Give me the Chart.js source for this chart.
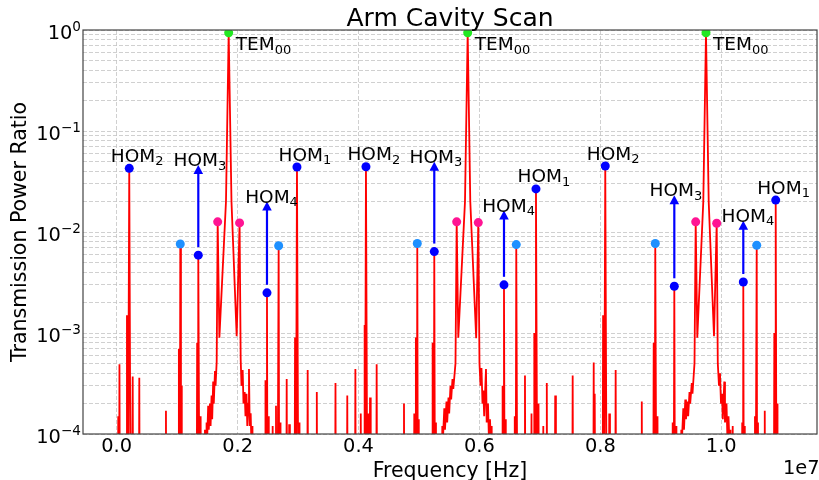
<!DOCTYPE html>
<html>
<head>
<meta charset="utf-8">
<title>Arm Cavity Scan</title>
<script src="https://cdn.jsdelivr.net/npm/chart.js@4.4.1/dist/chart.umd.min.js"></script>
<style>
  html, body { margin: 0; padding: 0; background: #fff; }
  #wrap { position: relative; width: 819px; height: 480px; }
</style>
</head>
<body>
<div id="wrap"><canvas id="scan"></canvas></div>
<script>
// all frequencies in MHz; the axis shows them in units of 1e7 Hz
const xTickMHz = [0, 2, 4, 6, 8, 10];
const xTickLabels = ["0.0", "0.2", "0.4", "0.6", "0.8", "1.0"];
const yDecades = [1e-4, 1e-3, 1e-2, 1e-1, 1];
const yDecadeExp = ["\u22124", "\u22123", "\u22122", "\u22121", "0"];
const yMinorSteps = [2, 3, 4, 5, 6, 7, 8, 9];

// TEM00 carrier resonances (green)
const temMHz = [1.8525, 5.8055, 9.747];
const temPow = [0.94, 0.94, 0.94];

// higher order modes (blue) and their order number
const homMHz = [0.208, 1.350, 2.486, 2.982, 4.123, 5.253, 6.406, 6.935, 8.081, 9.223, 10.364, 10.900];
const homPow = [0.0427, 0.0059, 0.0025, 0.044, 0.0443, 0.0064, 0.0030, 0.0267, 0.045, 0.0029, 0.0032, 0.0207];
const homOrder = [2, 3, 4, 1, 2, 3, 4, 1, 2, 3, 4, 1];
// arrow tips for the HOM3 / HOM4 peaks, in the same order as they appear above
const arrowTop = [0.046, 0.020, 0.0497, 0.0163, 0.0231, 0.0129];

// light blue side peaks
const sideMHz = [1.052, 2.679, 4.972, 6.609, 8.908, 10.586];
const sidePow = [0.0076, 0.0073, 0.0077, 0.0075, 0.0077, 0.0074];

// pink peaks next to each carrier
const pinkMHz = [1.6705, 2.0328, 5.6236, 5.9809, 9.5767, 9.924];
const pinkPow = [0.0126, 0.0123, 0.0126, 0.0124, 0.0126, 0.0122];

// small spikes of the red trace
const spikeMHz = [0.026, 0.046, 0.170, 0.265, 0.374, 0.815, 1.030, 1.075, 1.331, 1.389, 1.460,
  2.461, 2.511, 2.580, 2.635, 2.704, 2.812, 2.853, 2.950, 3.024, 3.159, 3.310,
  3.619, 3.814, 3.948, 4.037, 4.095, 4.165, 4.190, 4.300, 4.752, 4.922, 4.950, 4.997, 5.228, 5.281,
  6.389, 6.434, 6.584, 6.753, 6.861, 6.907, 6.977, 7.056, 7.114, 7.253, 7.542,
  7.890, 7.911, 8.045, 8.147, 8.253, 8.685, 8.882, 8.945, 9.196, 9.251,
  10.189, 10.346, 10.389, 10.557, 10.607, 10.719, 10.877, 10.930];
const spikePow = [1.5e-4, 4.9e-4, 1.5e-3, 3.7e-4, 3.6e-4, 1.7e-4, 7e-4, 3e-4, 8e-4, 1.5e-4, 1.1e-4,
  3.4e-4, 1.5e-4, 1.2e-4, 1.9e-4, 1.3e-4, 3.5e-4, 1.25e-4, 9e-4, 1.3e-4, 4.3e-4, 2.6e-4,
  3.2e-4, 2.4e-4, 4.4e-4, 1.6e-4, 1.2e-3, 1.6e-4, 2.3e-4, 4.9e-4, 2e-4, 1.6e-4, 9e-4, 1.4e-4, 8e-4, 1.3e-4,
  3e-4, 1.4e-4, 1.5e-4, 3.8e-4, 1.6e-4, 1e-3, 2e-4, 1.2e-4, 3.2e-4, 2.4e-4, 3.8e-4,
  5.1e-4, 2.5e-4, 1.5e-3, 1.6e-4, 4.3e-4, 2.1e-4, 8e-4, 1.5e-4, 1.3e-4, 1.2e-4,
  1.2e-4, 1.3e-4, 1.2e-4, 1.5e-4, 1.3e-4, 1.7e-4, 1e-3, 2e-4];

// wings of the three carrier resonances, traced point by point (carrier and pink tops merged in below)
const wingMHz = [
  1.4737, 1.4869, 1.4969, 1.5134, 1.5233, 1.5432, 1.5531, 1.5696, 1.5796, 1.5961, 1.6060, 1.6259, 1.6358, 1.6540,
  1.6987, 1.8078, 1.8988, 1.9848,
  2.0510, 2.0642, 2.0840, 2.0973, 2.1171, 2.1304, 2.1469, 2.1601, 2.1767, 2.1882, 2.1998, 2.2164, 2.2263, 2.2461, 2.2577,
  5.3722, 5.3854, 5.3970, 5.4185, 5.4301, 5.4549, 5.4665, 5.4880, 5.4996, 5.5211, 5.5326, 5.5541, 5.5674, 5.6038,
  5.6501, 5.7609, 5.8485, 5.9461,
  6.0007, 6.0173, 6.0338, 6.0503, 6.0636, 6.0785, 6.1082, 6.1198, 6.1413, 6.1545, 6.1744, 6.1876, 6.2025, 6.2157,
  9.3253, 9.3385, 9.3501, 9.3716, 9.3832, 9.4047, 9.4162, 9.4410, 9.4526, 9.4741, 9.4857, 9.5121, 9.5237, 9.5568,
  9.6031, 9.7024, 9.7917, 9.8793,
  9.9422, 9.9620, 9.9786, 9.9951, 10.0116, 10.0249, 10.0497, 10.0613, 10.0861, 10.0993, 10.1192, 10.1324, 10.1522, 10.1638];
const wingPow = [
  1e-6, 1.3e-4, 9e-5, 1.9e-4, 1.1e-4, 2e-4, 1.2e-4, 2.4e-4, 1.4e-4, 3.3e-4, 2e-4, 4.2e-4, 3e-4, 5.2e-4,
  9e-4, 0.02, 0.02, 9.3e-4,
  5.5e-4, 3e-4, 4.3e-4, 2e-4, 2.6e-4, 1.5e-4, 2.5e-4, 1.2e-4, 2e-4, 4.4e-4, 1.2e-4, 1.6e-4, 9e-5, 1.2e-4, 1e-6,
  1e-6, 1.2e-4, 9e-5, 1.8e-4, 1.1e-4, 2.1e-4, 1.3e-4, 2.3e-4, 1.6e-4, 3e-4, 2.2e-4, 3.5e-4, 2.8e-4, 5e-4,
  9e-4, 0.02, 0.02, 8.9e-4,
  5e-4, 3e-4, 4.5e-4, 2e-4, 2.7e-4, 1.5e-4, 4.4e-4, 1.3e-4, 2e-4, 1e-4, 1.4e-4, 9e-5, 1.2e-4, 1e-6,
  1e-6, 1.1e-4, 9e-5, 1.8e-4, 1.1e-4, 2.2e-4, 1.4e-4, 2.1e-4, 1.5e-4, 2.6e-4, 2e-4, 3.2e-4, 2.5e-4, 5e-4,
  9e-4, 0.02, 0.02, 9.3e-4,
  5e-4, 3e-4, 4e-4, 2e-4, 2.5e-4, 1.4e-4, 3.3e-4, 1.3e-4, 2e-4, 1e-4, 1.5e-4, 9e-5, 1.1e-4, 1e-6];

const FONT = "'DejaVu Sans', sans-serif";
const FLOOR = 1e-6;

function pts(xs, ys) {
  return xs.map((x, i) => ({ x: x, y: ys[i] }));
}

// red transmission trace: narrow spikes down to the floor, plus the traced carrier wings
function buildTrace() {
  const out = [];
  const spike = (f, p, w) => out.push({ x: f - w, y: FLOOR }, { x: f, y: p }, { x: f + w, y: FLOOR });
  spikeMHz.forEach((f, i) => spike(f, spikePow[i], 0.012));
  homMHz.forEach((f, i) => spike(f, homPow[i], 0.03));
  sideMHz.forEach((f, i) => spike(f, sidePow[i], 0.025));
  wingMHz.forEach((f, i) => out.push({ x: f, y: wingPow[i] }));
  temMHz.forEach((f, i) => out.push({ x: f, y: temPow[i] }));
  pinkMHz.forEach((f, i) => out.push({ x: f, y: pinkPow[i] }));
  out.sort((a, b) => a.x - b.x);
  return out;
}

function modeLabel(ctx, name, sub, left, base) {
  ctx.font = "18.5px " + FONT;
  ctx.fillText(name, left, base);
  const w = ctx.measureText(name).width;
  ctx.font = "13px " + FONT;
  ctx.fillText(sub, left + w, base + 3.5);
}

const extras = {
  id: "extras",
  afterDatasetsDraw(chart) {
    const { ctx, chartArea: a } = chart;
    const x = chart.scales.x, y = chart.scales.y;
    ctx.save();

    // arrows from the HOM3 / HOM4 dots
    ctx.strokeStyle = "#0000ff";
    ctx.fillStyle = "#0000ff";
    ctx.lineWidth = 2.2;
    let k = 0;
    homMHz.forEach((f, i) => {
      if (homOrder[i] < 3) return;
      const px = x.getPixelForValue(f);
      const y0 = y.getPixelForValue(homPow[i]) - 8;
      const y1 = y.getPixelForValue(arrowTop[k++]);
      ctx.beginPath();
      ctx.moveTo(px, y0);
      ctx.lineTo(px, y1 + 7);
      ctx.stroke();
      ctx.beginPath();
      ctx.moveTo(px, y1);
      ctx.lineTo(px - 4.8, y1 + 9);
      ctx.lineTo(px + 4.8, y1 + 9);
      ctx.closePath();
      ctx.fill();
    });

    // mode labels
    ctx.fillStyle = "#000";
    ctx.textAlign = "left";
    ctx.textBaseline = "alphabetic";
    k = 0;
    homMHz.forEach((f, i) => {
      const px = x.getPixelForValue(f);
      const n = homOrder[i];
      if (n < 3) {
        modeLabel(ctx, "HOM", String(n), px - 18.5, y.getPixelForValue(homPow[i]) - 6.5);
      } else {
        const tip = y.getPixelForValue(arrowTop[k++]);
        modeLabel(ctx, "HOM", String(n), px + (n === 3 ? -24.8 : -21.8), tip + 1);
      }
    });
    temMHz.forEach((f, i) => {
      modeLabel(ctx, "TEM", "00", x.getPixelForValue(f) + 7, y.getPixelForValue(temPow[i]) + 17.5);
    });

    // frame
    ctx.strokeStyle = "#444";
    ctx.lineWidth = 1.2;
    ctx.strokeRect(a.left, a.top, a.right - a.left, a.bottom - a.top);
    ctx.restore();
  },
  afterDraw(chart) {
    const { ctx, chartArea: a } = chart;
    const y = chart.scales.y;
    ctx.save();
    ctx.fillStyle = "#000";

    // y tick labels 10^n
    yDecades.forEach((v, i) => {
      const py = y.getPixelForValue(v);
      ctx.font = "19.4px " + FONT;
      const w1 = ctx.measureText("10").width;
      ctx.font = "13.6px " + FONT;
      const w2 = ctx.measureText(yDecadeExp[i]).width;
      const left = 81 - w1 - w2;
      ctx.textAlign = "left";
      ctx.font = "19.4px " + FONT;
      ctx.fillText("10", left, py + 8.5);
      ctx.font = "13.6px " + FONT;
      ctx.fillText(yDecadeExp[i], left + w1, py + 1.2);
    });

    // offset text
    ctx.font = "19.4px " + FONT;
    ctx.textAlign = "right";
    ctx.fillText("1e7", 819.5, 473.5);

    // title and axis labels
    const cx = (a.left + a.right) / 2;
    ctx.textAlign = "center";
    ctx.font = "25px " + FONT;
    ctx.fillText("Arm Cavity Scan", cx, 26);
    ctx.font = "20.5px " + FONT;
    ctx.fillText("Frequency [Hz]", cx, 476.5);
    ctx.translate(25.5, (a.top + a.bottom) / 2);
    ctx.rotate(-Math.PI / 2);
    ctx.fillText("Transmission Power Ratio", 0, 0);
    ctx.restore();
  }
};

const gridStyle = { color: "#c4c4c4", lineWidth: 0.8, drawTicks: false };
const borderStyle = { display: false, dash: [4, 2] };

new Chart(document.getElementById("scan"), {
  type: "scatter",
  data: {
    datasets: [
      { label: "TEM00", data: pts(temMHz, temPow), pointRadius: 4.5, pointBorderWidth: 0,
        pointBackgroundColor: "#22e822", clip: 0, order: 0 },
      { label: "HOM", data: pts(homMHz, homPow), pointRadius: 4.5, pointBorderWidth: 0,
        pointBackgroundColor: "#0000ff", clip: 0, order: 0 },
      { label: "side", data: pts(sideMHz, sidePow), pointRadius: 4.5, pointBorderWidth: 0,
        pointBackgroundColor: "#1e90ff", clip: 0, order: 0 },
      { label: "pink", data: pts(pinkMHz, pinkPow), pointRadius: 4.5, pointBorderWidth: 0,
        pointBackgroundColor: "#ff1493", clip: 0, order: 0 },
      { label: "transmission", data: buildTrace(), showLine: true, borderColor: "#ff0000",
        borderWidth: 1.8, pointRadius: 0, clip: 0, order: 1 }
    ]
  },
  options: {
    responsive: true,
    maintainAspectRatio: false,
    animation: false,
    layout: { autoPadding: false, padding: { top: 30, right: 2, left: 0, bottom: 0 } },
    plugins: {
      legend: { display: false },
      tooltip: { enabled: false },
      title: { display: false }
    },
    scales: {
      x: {
        type: "linear",
        min: -0.557,
        max: 11.583,
        bounds: "data",
        afterBuildTicks: (s) => { s.ticks = xTickMHz.map((v) => ({ value: v })); },
        afterFit: (s) => { s.height = 46; s.paddingLeft = 0; s.paddingRight = 0; },
        ticks: {
          autoSkip: false, maxRotation: 0, padding: 1, color: "#000",
          font: { family: "'DejaVu Sans'", size: 19.4 },
          callback: (v, i) => xTickLabels[i]
        },
        grid: gridStyle,
        border: borderStyle
      },
      y: {
        type: "logarithmic",
        min: 1e-4,
        max: 1,
        bounds: "data",
        afterBuildTicks: (s) => {
          const t = [];
          yDecades.forEach((d, i) => {
            t.push({ value: d });
            if (i < yDecades.length - 1) yMinorSteps.forEach((m) => t.push({ value: m * d }));
          });
          s.ticks = t;
        },
        afterFit: (s) => { s.width = 83; s.paddingTop = 0; s.paddingBottom = 0; },
        ticks: { display: false, autoSkip: false },
        grid: gridStyle,
        border: borderStyle
      }
    }
  },
  plugins: [extras]
});
</script>
</body>
</html>
